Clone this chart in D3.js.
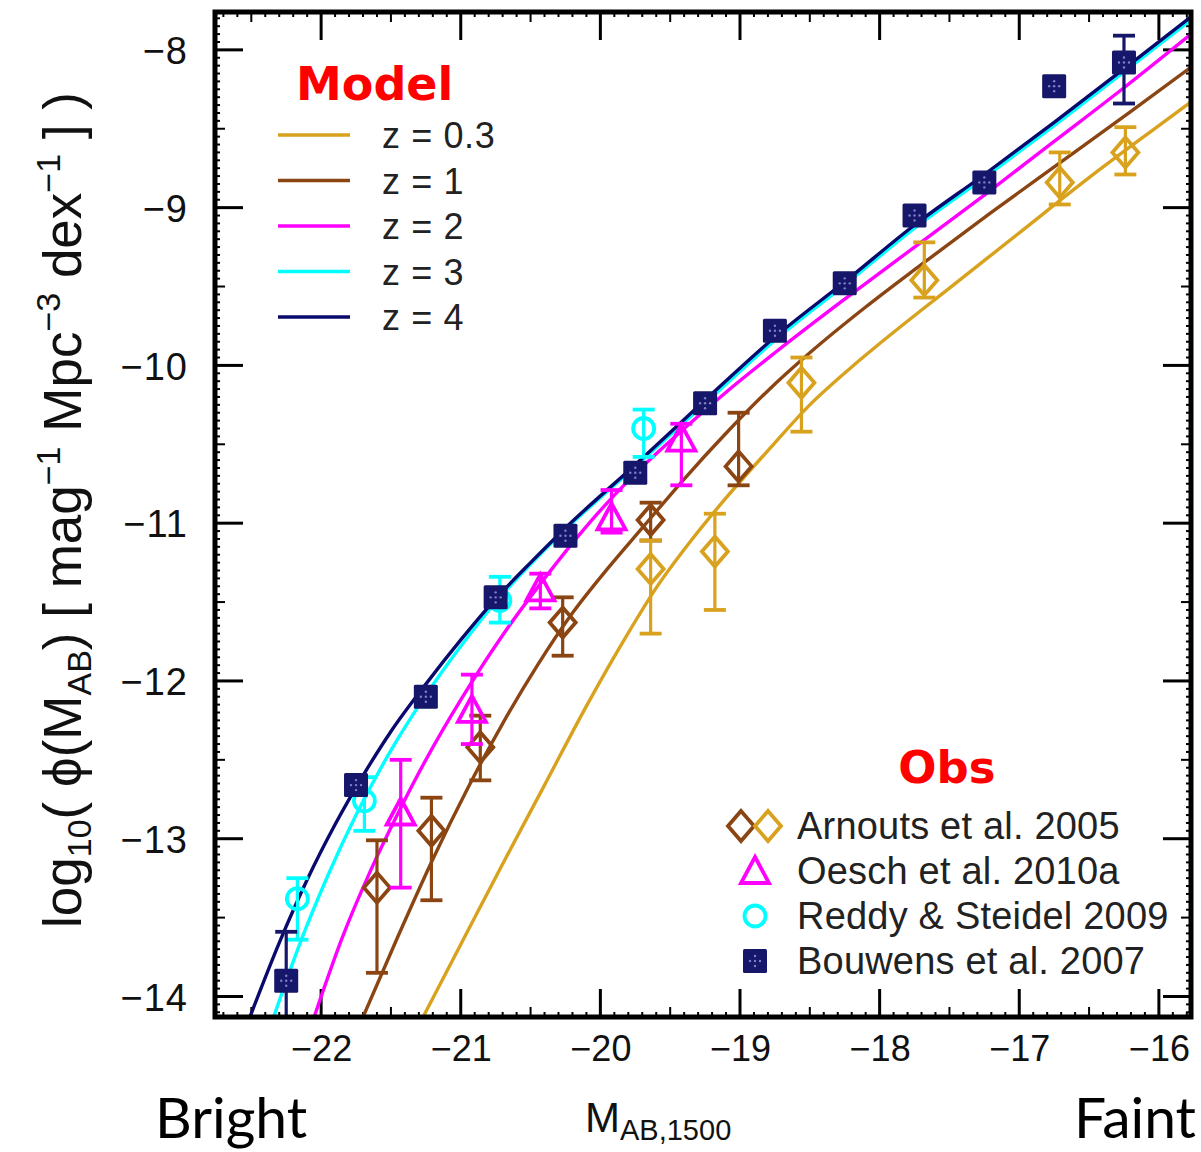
<!DOCTYPE html>
<html><head><meta charset="utf-8">
<script src="https://cdn.jsdelivr.net/npm/d3@7"></script>
<style>body{margin:0;background:#fff}svg{display:block}</style>
</head><body>
<svg id="c" width="1201" height="1152"></svg>
<script>
// ---------- data ----------
const xTickValues = [-22, -21, -20, -19, -18, -17, -16];
const yTickValues = [-8, -9, -10, -11, -12, -13, -14];

const modelLabels = ["z = 0.3", "z = 1", "z = 2", "z = 3", "z = 4"];
const modelColors = ["#D9A21E", "#8B4513", "#FF00FF", "#00FFFF", "#0A0A6E"];

// model curves: [M_AB, log10 phi]
const modelZ03 = [[-21.27,-14.13],[-21.0,-13.67],[-20.7,-13.16],[-20.4,-12.66],[-20.1,-12.16],[-19.85,-11.77],[-19.6,-11.41],[-19.35,-11.11],[-19.1,-10.84],[-18.8,-10.54],[-18.5,-10.25],[-18.2,-10.01],[-17.9,-9.79],[-17.5,-9.51],[-17.0,-9.16],[-16.5,-8.81],[-16.0,-8.48],[-15.77,-8.33]];
const modelZ1  = [[-21.70,-14.13],[-21.45,-13.62],[-21.2,-13.13],[-20.95,-12.68],[-20.7,-12.27],[-20.45,-11.90],[-20.2,-11.57],[-19.95,-11.29],[-19.7,-11.03],[-19.4,-10.72],[-19.1,-10.43],[-18.8,-10.16],[-18.5,-9.92],[-18.1,-9.63],[-17.7,-9.36],[-17.2,-9.03],[-16.7,-8.71],[-16.2,-8.39],[-15.77,-8.11]];
const modelZ2  = [[-22.05,-14.13],[-21.85,-13.63],[-21.65,-13.21],[-21.45,-12.84],[-21.25,-12.50],[-21.0,-12.12],[-20.7,-11.71],[-20.4,-11.35],[-20.1,-11.02],[-19.8,-10.73],[-19.45,-10.44],[-19.1,-10.17],[-18.75,-9.92],[-18.25,-9.58],[-17.75,-9.25],[-17.25,-8.92],[-16.75,-8.58],[-16.25,-8.24],[-15.77,-7.90]];
const modelZ3  = [[-22.34,-14.13],[-22.15,-13.66],[-21.95,-13.23],[-21.75,-12.85],[-21.5,-12.44],[-21.25,-12.09],[-21.0,-11.78],[-20.75,-11.50],[-20.5,-11.26],[-20.25,-11.04],[-19.75,-10.64],[-19.25,-10.24],[-18.75,-9.84],[-18.25,-9.49],[-17.75,-9.13],[-17.25,-8.81],[-16.75,-8.48],[-16.25,-8.14],[-15.77,-7.81]];
const modelZ4  = [[-22.51,-14.13],[-22.3,-13.66],[-22.1,-13.26],[-21.9,-12.91],[-21.7,-12.60],[-21.5,-12.32],[-21.25,-12.02],[-21.0,-11.74],[-20.75,-11.48],[-20.5,-11.25],[-20.25,-11.03],[-19.75,-10.63],[-19.25,-10.22],[-18.75,-9.82],[-18.25,-9.47],[-17.75,-9.11],[-17.25,-8.79],[-16.75,-8.46],[-16.25,-8.12],[-15.77,-7.79]];

// observations: [M, value, errLow, errHigh] (absolute log values; null = no visible bar)
const arnoutsZ1 = [[-21.60,-13.31,-13.85,-13.01],[-21.21,-12.95,-13.39,-12.74],[-20.86,-12.42,-12.63,-12.22],[-20.27,-11.63,-11.84,-11.47],[-19.64,-10.98,-11.11,-10.87],[-19.01,-10.64,-10.76,-10.30]];
const arnoutsZ03 = [[-19.64,-11.29,-11.70,-11.11],[-19.18,-11.18,-11.55,-10.94],[-18.56,-10.11,-10.42,-9.95],[-17.68,-9.46,-9.57,-9.22],[-16.71,-8.84,-8.98,-8.65],[-16.24,-8.65,-8.79,-8.49]];
const oesch = [[-21.43,-12.84,-13.31,-12.50],[-20.92,-12.19,-12.40,-11.96],[-20.43,-11.42,-11.54,-11.32],[-19.92,-10.97,-11.06,-10.79],[-19.42,-10.47,-10.76,-10.37]];
const reddy = [[-22.17,-13.38,-13.64,-13.25],[-21.69,-12.76,-12.95,-12.61],[-20.72,-11.49,-11.63,-11.34],[-19.69,-10.40,-10.58,-10.28]];
const bouwens = [[-22.25,-13.90,-14.40,-13.59],[-21.75,-12.66,null,null],[-21.25,-12.10,null,null],[-20.75,-11.47,null,null],[-20.25,-11.08,null,null],[-19.75,-10.68,null,null],[-19.25,-10.24,null,null],[-18.75,-9.78,null,null],[-18.25,-9.48,null,null],[-17.75,-9.05,null,null],[-17.25,-8.84,null,null],[-16.75,-8.23,null,null],[-16.25,-8.08,-8.34,-7.91]];

const obsLabels = ["Arnouts et al. 2005", "Oesch et al. 2010a", "Reddy & Steidel 2009", "Bouwens et al. 2007"];

// ---------- drawing ----------
const svg = d3.select("#c");
const L = 215, R = 1191, T = 12, B = 1017;
const x = d3.scaleLinear().domain([-22.76, -15.77]).range([L, R]);
const y = d3.scaleLinear().domain([-7.76, -14.13]).range([T, B]);
const FONT = "'Liberation Sans', Arial, Helvetica, sans-serif";
const NAVY = "#16166a";

svg.append("defs").append("clipPath").attr("id", "clip")
  .append("rect").attr("x", L).attr("y", T).attr("width", R - L).attr("height", B - T);

// ticks (inward, on all four sides)
const tickG = svg.append("g").attr("stroke", "#000");
function xTickLen(v) { const r = Math.round(v * 10); return r % 10 === 0 ? 28 : (r % 5 === 0 ? 10 : 5); }
function yTickLen(v) { const r = Math.round(v * 20); return r % 20 === 0 ? 28 : (r % 10 === 0 ? 10 : 5); }
const xMinor = d3.range(-227, -157).map(d => d / 10);
const yMinor = d3.range(-282, -155).map(d => d / 20);
xMinor.forEach(v => {
  const px = x(v), len = xTickLen(v), w = len > 20 ? 3 : 2;
  tickG.append("line").attr("x1", px).attr("x2", px).attr("y1", B).attr("y2", B - len).attr("stroke-width", w);
  tickG.append("line").attr("x1", px).attr("x2", px).attr("y1", T).attr("y2", T + len).attr("stroke-width", w);
});
yMinor.forEach(v => {
  const py = y(v); if (py < T || py > B) return;
  const len = yTickLen(v), w = len > 20 ? 3 : 2;
  tickG.append("line").attr("y1", py).attr("y2", py).attr("x1", L).attr("x2", L + len).attr("stroke-width", w);
  tickG.append("line").attr("y1", py).attr("y2", py).attr("x1", R).attr("x2", R - len).attr("stroke-width", w);
});

// axis labels via d3 axes (tick lines hidden; drawn above)
const xAxis = d3.axisBottom(x).tickValues(xTickValues).tickSize(0).tickPadding(0)
  .tickFormat(d => "\u2212" + Math.abs(d));
const gx = svg.append("g").attr("transform", `translate(0,${B})`).call(xAxis);
gx.select(".domain").remove();
gx.selectAll("text").attr("font-family", FONT).attr("font-size", 36).attr("fill", "#111")
  .attr("dy", null).attr("y", 44);

const yAxis = d3.axisLeft(y).tickValues(yTickValues).tickSize(0).tickPadding(0)
  .tickFormat(d => "\u2212" + Math.abs(d));
const gy = svg.append("g").attr("transform", `translate(${L},0)`).call(yAxis);
gy.select(".domain").remove();
gy.selectAll("text").attr("font-family", FONT).attr("font-size", 38).attr("fill", "#111")
  .attr("x", -27).attr("dy", "0.36em").attr("letter-spacing", 1);

// model curves
const lineGen = d3.line().x(d => x(d[0])).y(d => y(d[1])).curve(d3.curveMonotoneX);
const models = [modelZ03, modelZ1, modelZ2, modelZ3, modelZ4];
const plotG = svg.append("g").attr("clip-path", "url(#clip)");
models.forEach((m, i) => {
  plotG.append("path").datum(m).attr("d", lineGen).attr("fill", "none")
    .attr("stroke", modelColors[i]).attr("stroke-width", 3.4);
});

// error bars and markers
function errBars(data, color, w) {
  data.forEach(d => {
    if (d[2] == null) return;
    const px = x(d[0]);
    plotG.append("line").attr("x1", px).attr("x2", px).attr("y1", y(d[2])).attr("y2", y(d[3]))
      .attr("stroke", color).attr("stroke-width", 3.2);
    [d[2], d[3]].forEach(v => plotG.append("line").attr("x1", px - w / 2).attr("x2", px + w / 2)
      .attr("y1", y(v)).attr("y2", y(v)).attr("stroke", color).attr("stroke-width", 3.8));
  });
}
function diamond(g, cx, cy, color) {
  g.append("path").attr("d", `M${cx},${cy - 15}L${cx + 13},${cy}L${cx},${cy + 15}L${cx - 13},${cy}Z`)
    .attr("fill", "none").attr("stroke", color).attr("stroke-width", 3.8);
}
function triangle(g, cx, cy, color) {
  g.append("path").attr("d", `M${cx},${cy - 15}L${cx + 14},${cy + 11}L${cx - 14},${cy + 11}Z`)
    .attr("fill", "none").attr("stroke", color).attr("stroke-width", 3.8);
}
function circle(g, cx, cy, color) {
  g.append("circle").attr("cx", cx).attr("cy", cy).attr("r", 10.5).attr("fill", "none")
    .attr("stroke", color).attr("stroke-width", 3.8);
}
function square(g, cx, cy) {
  g.append("rect").attr("x", cx - 12).attr("y", cy - 12).attr("width", 24).attr("height", 24)
    .attr("fill", NAVY).attr("rx", 1.5);
  [[0, -5], [5, 0], [0, 5], [-5, 0], [0, 0]].forEach(o =>
    g.append("circle").attr("cx", cx + o[0]).attr("cy", cy + o[1]).attr("r", 1.2).attr("fill", "#8080c4"));
}

errBars(arnoutsZ1, modelColors[1], 22);
arnoutsZ1.forEach(d => diamond(plotG, x(d[0]), y(d[1]), modelColors[1]));
errBars(arnoutsZ03, modelColors[0], 22);
arnoutsZ03.forEach(d => diamond(plotG, x(d[0]), y(d[1]), modelColors[0]));
errBars(oesch, "#FF00FF", 22);
oesch.forEach(d => triangle(plotG, x(d[0]), y(d[1]), "#FF00FF"));
errBars(reddy, "#00FFFF", 22);
reddy.forEach(d => circle(plotG, x(d[0]), y(d[1]), "#00FFFF"));
errBars(bouwens, NAVY, 22);
bouwens.forEach(d => square(plotG, x(d[0]), y(d[1])));

// frame
svg.append("rect").attr("x", L).attr("y", T).attr("width", R - L).attr("height", B - T)
  .attr("fill", "none").attr("stroke", "#000").attr("stroke-width", 5);

// Model legend
svg.append("text").attr("x", 296).attr("y", 100).text("Model")
  .attr("font-family", "'DejaVu Sans', Verdana, sans-serif").attr("font-weight", "bold")
  .attr("font-size", 46).attr("fill", "#FF0000");
modelLabels.forEach((lab, i) => {
  const ly = 135 + i * 45.5;
  svg.append("line").attr("x1", 278).attr("x2", 350).attr("y1", ly).attr("y2", ly)
    .attr("stroke", modelColors[i]).attr("stroke-width", 3.4);
  svg.append("text").attr("x", 382).attr("y", ly + 13).text(lab)
    .attr("font-family", FONT).attr("font-size", 36).attr("fill", "#222").attr("letter-spacing", 0.6);
});

// Obs legend
svg.append("text").attr("x", 947).attr("y", 783).attr("text-anchor", "middle").text("Obs")
  .attr("font-family", "'DejaVu Sans', Verdana, sans-serif").attr("font-weight", "bold")
  .attr("font-size", 45).attr("fill", "#FF0000");
const legG = svg.append("g");
const rows = [826, 871, 916, 961];
diamond(legG, 741, rows[0], modelColors[1]);
diamond(legG, 768, rows[0], modelColors[0]);
triangle(legG, 755, rows[1] + 1, "#FF00FF");
circle(legG, 755, rows[2], "#00FFFF");
square(legG, 755, rows[3]);
obsLabels.forEach((lab, i) => {
  legG.append("text").attr("x", 797).attr("y", rows[i] + 13).text(lab)
    .attr("font-family", FONT).attr("font-size", 38).attr("fill", "#222").attr("letter-spacing", 0.2);
});

// Y title (rotated)
const yt = svg.append("text").attr("transform", "translate(81,510) rotate(-90)")
  .attr("text-anchor", "middle").attr("font-family", FONT).attr("font-size", 53).attr("fill", "#111");
yt.append("tspan").text("log");
yt.append("tspan").attr("font-size", 34).attr("dy", 10).text("10");
yt.append("tspan").attr("dy", -10).text("( \u03D5(M");
yt.append("tspan").attr("font-size", 34).attr("dy", 10).text("AB");
yt.append("tspan").attr("dy", -10).text(") [ mag");
yt.append("tspan").attr("font-size", 34).attr("dy", -21).text("\u22121");
yt.append("tspan").attr("dy", 21).text(" Mpc");
yt.append("tspan").attr("font-size", 34).attr("dy", -21).text("\u22123");
yt.append("tspan").attr("dy", 21).text(" dex");
yt.append("tspan").attr("font-size", 34).attr("dy", -21).text("\u22121");
yt.append("tspan").attr("dy", 21).text(" ] )");

// X title and Bright/Faint
const xt = svg.append("text").attr("x", 585).attr("y", 1132).attr("font-family", FONT)
  .attr("font-size", 42).attr("fill", "#111");
xt.append("tspan").text("M");
xt.append("tspan").attr("font-size", 29).attr("dy", 8).text("AB,1500");
svg.append("text").attr("x", 155).attr("y", 1138).text("Bright")
  .attr("font-family", "Lato, 'Open Sans', sans-serif").attr("font-size", 57).attr("fill", "#000");
svg.append("text").attr("x", 1196).attr("y", 1138).attr("text-anchor", "end").text("Faint")
  .attr("font-family", "Lato, 'Open Sans', sans-serif").attr("font-size", 57).attr("fill", "#000");
</script>
</body></html>
